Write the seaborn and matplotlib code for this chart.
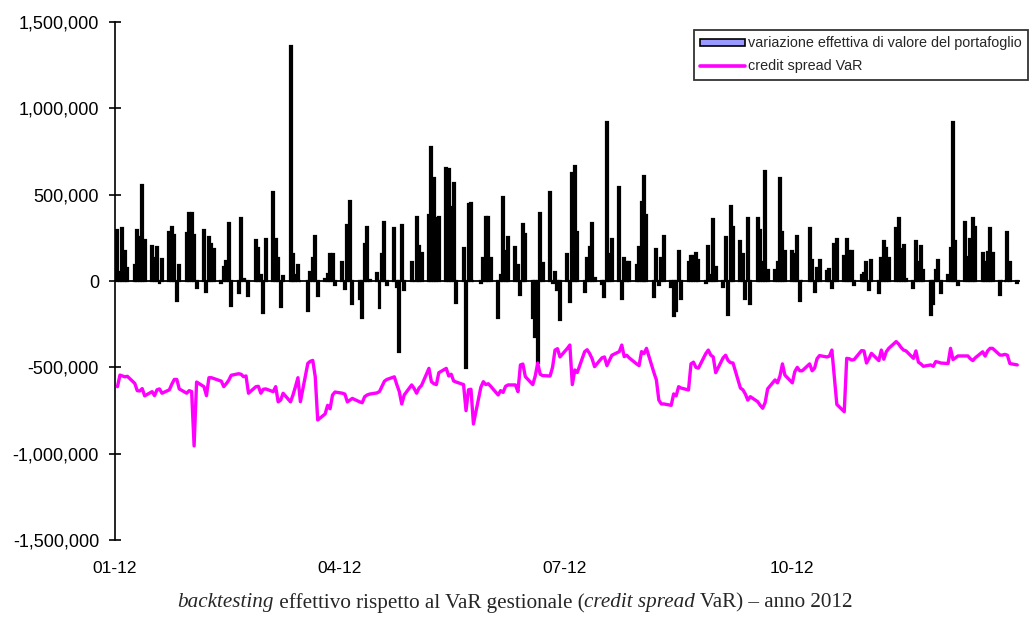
import numpy as np
import pandas as pd
import matplotlib
matplotlib.use("Agg")
import matplotlib.pyplot as plt
import matplotlib.dates as mdates
from matplotlib.patches import Patch
from matplotlib.lines import Line2D
from matplotlib.ticker import FuncFormatter, FixedLocator
import seaborn as sns

# Trading days of 2012 (Mon-Fri)
trading_days = pd.bdate_range("2012-01-02", "2012-12-31")

# Daily change in portfolio value, thousand EUR (one row per week)
pnl_k = [
    295, 52, 305, 176, 73,
    93, 295, 257, 556, 237,
    205, 135, 195, -10, 125,
    286, 315, 264, -116, 93,
    276, 396, 396, 264, -42,
    295, -66, 253, 214, 183,
    -10, 83, 114, 334, -145,
    -71, 363, 10, 0, -87,
    237, 193, 33, -183, 245,
    517, 245, 133, -152, 31,
    1363, 154, 35, 93, 0,
    -172, 50, 131, 262, -85,
    10, 40, 154, 154, -23,
    112, -44, 324, 465, -133,
    -104, -216, 212, 315, 5,
    44, -154, 154, 343, -23,
    305, -33, -409, 324, -52,
    112, 0, 372, 200, 164,
    382, 778, 595, 363, 372,
    657, 648, 427, 566, -126,
    193, -506, 444, 453, 0,
    -13, 131, 372, 372, 131,
    -214, 32, 486, 174, 255,
    195, 93, -81, 328, 272,
    -214, -324, -475, 396, 102,
    517, -10, 54, -52, -226,
    154, -124, 627, 666, 286,
    -66, 135, 195, 334, 20,
    -17, -91, 919, 156, 243,
    546, -104, 131, 108, 112,
    93, 195, 455, 608, 380,
    -93, 183, -23, 131, 262,
    -33, -203, -172, 174, -104,
    112, 145, 145, 164, 122,
    -10, 205, 35, 357, 83,
    -33, 257, -197, 436, 315,
    234, 154, -106, 367, -133,
    367, 295, 112, 639, 64,
    64, 108, 598, 286, 174,
    174, 154, 262, -114, 0,
    305, 122, -62, 73, 122,
    60, 70, -42, 214, 243,
    145, 243, 174, 174, -23,
    35, 44, 112, -52, 122,
    -71, 131, 234, 193, 131,
    305, 367, 183, 206, 10,
    -42, 234, 112, 205, 64,
    -197, -133, 64, 122, -71,
    35, 193, 919, 234, -23,
    344, 141, 243, 367, 315,
    164, 112, 170, 305, 164,
    -81, 0, 0, 286, 112,
    -10,
]

# Credit spread VaR, thousand EUR (one row per week)
var_k = [
    -612, -545, -550, -555, -552,
    -593, -635, -637, -623, -665,
    -641, -664, -630, -625, -650,
    -630, -597, -570, -570, -625,
    -650, -635, -640, -955, -585,
    -612, -664, -560, -560, -565,
    -580, -612, -595, -575, -546,
    -537, -540, -554, -550, -650,
    -612, -610, -650, -627, -625,
    -641, -612, -700, -690, -650,
    -700, -660, -612, -560, -699,
    -477, -465, -460, -554, -805,
    -770, -720, -740, -660, -643,
    -650, -655, -700, -690, -680,
    -700, -705, -670, -660, -655,
    -648, -640, -610, -580, -570,
    -555, -600, -640, -712, -660,
    -602, -622, -650, -620, -605,
    -506, -583, -595, -600, -531,
    -506, -550, -540, -579, -585,
    -600, -751, -630, -627, -828,
    -615, -583, -600, -595, -610,
    -660, -635, -645, -610, -602,
    -602, -641, -486, -481, -554,
    -600, -550, -475, -540, -548,
    -550, -500, -400, -392, -440,
    -390, -371, -600, -515, -530,
    -409, -398, -420, -450, -496,
    -445, -440, -490, -460, -430,
    -409, -371, -438, -430, -445,
    -480, -490, -409, -420, -390,
    -530, -573, -690, -712, -712,
    -720, -654, -665, -612, -620,
    -631, -480, -470, -500, -505,
    -420, -400, -429, -440, -531,
    -445, -430, -460, -473, -475,
    -620, -630, -655, -690, -670,
    -699, -720, -737, -704, -625,
    -573, -590, -550, -480, -545,
    -590, -525, -500, -520, -520,
    -480, -520, -505, -450, -432,
    -440, -435, -400, -560, -715,
    -757, -448, -450, -458, -455,
    -403, -405, -475, -450, -419,
    -461, -400, -453, -410, -390,
    -351, -365, -385, -400, -405,
    -448, -405, -470, -480, -494,
    -486, -494, -467, -470, -475,
    -478, -390, -455, -445, -434,
    -434, -434, -450, -461, -445,
    -410, -435, -405, -390, -390,
    -429, -429, -425, -430, -478,
    -486,
]

tick_dates = ["2012-01-01", "2012-04-01", "2012-07-01", "2012-10-01"]
tick_labels = ["01-12", "04-12", "07-12", "10-12"]
legend_labels = ["variazione effettiva di valore del portafoglio", "credit spread VaR"]
y_ticks = [-1_500_000, -1_000_000, -500_000, 0, 500_000, 1_000_000, 1_500_000]

df = pd.DataFrame({
    "day": mdates.date2num(trading_days.to_pydatetime()),
    "pnl": np.array(pnl_k) * 1000,
    "var": np.array(var_k) * 1000,
})

sns.set_style("white")
plt.rcParams["font.family"] = ["Liberation Sans", "DejaVu Sans"]

BAR_FILL = "#9999FF"
LINE_COL = "#FF00FF"

fig = plt.figure(figsize=(10.30, 6.19), dpi=100)
ax = fig.add_axes([115 / 1030, 1 - 540 / 619, (1020 - 115) / 1030, (540 - 22) / 619])

sns.barplot(data=df, x="day", y="pnl", native_scale=True, width=0.8,
            color=BAR_FILL, edgecolor="black", linewidth=1.6,
            errorbar=None, saturation=1, ax=ax, zorder=2)
sns.lineplot(data=df, x="day", y="var", color=LINE_COL, linewidth=2.4,
             ax=ax, zorder=4)

ax.axhline(0, color="black", linewidth=1.3, zorder=3)

start = mdates.date2num(pd.Timestamp("2012-01-01"))
ax.set_xlim(start + 0.4, start + 366.1)
ax.set_ylim(-1_500_000, 1_500_000)

ax.yaxis.set_major_locator(FixedLocator(y_ticks))
ax.yaxis.set_major_formatter(FuncFormatter(lambda v, _: f"{v:,.0f}"))
ax.set_xticks(mdates.date2num(pd.to_datetime(tick_dates).to_pydatetime()))
ax.set_xticklabels(tick_labels)

ax.tick_params(axis="y", direction="inout", length=8, width=1.2,
               labelsize=13, pad=7.5, colors="black", left=True)
ax.tick_params(axis="x", length=0, labelsize=12.5, pad=15, colors="black")
ax.set_xlabel("")
ax.set_ylabel("")

for side in ["top", "right", "bottom"]:
    ax.spines[side].set_visible(False)
ax.spines["left"].set_color("black")
ax.spines["left"].set_linewidth(1.2)
ax.grid(False)

handles = [
    Patch(facecolor=BAR_FILL, edgecolor="black", linewidth=1.2),
    Line2D([0], [0], color=LINE_COL, linewidth=2.6),
]
leg = fig.legend(handles, legend_labels, loc="upper right",
                 bbox_to_anchor=(1028 / 1030, 1 - 30 / 619),
                 bbox_transform=fig.transFigure,
                 fontsize=10.4, frameon=True, fancybox=False,
                 edgecolor="black", handlelength=3.1, handleheight=0.4,
                 handletextpad=0.2, labelspacing=0.6, borderpad=0.45,
                 borderaxespad=0)
leg.get_frame().set_linewidth(1.3)

# Caption with italic parts, laid out piece by piece
pieces = [
    ("backtesting", "italic"),
    (" effettivo rispetto al VaR gestionale (", "normal"),
    ("credit spread", "italic"),
    (" VaR) \u2013 anno 2012", "normal"),
]
renderer = fig.canvas.get_renderer()
texts = []
for s, style in pieces:
    t = fig.text(0, 1 - 603 / 619, s, fontsize=15.2,
                 family=["Liberation Serif", "DejaVu Serif"], style=style,
                 va="center", ha="left")
    texts.append(t)
widths = [t.get_window_extent(renderer).width for t in texts]
total = sum(widths)
x = 515 - total / 2
for t, w in zip(texts, widths):
    t.set_x(x / 1030)
    x += w

fig.savefig("out.png", dpi=100, facecolor="white")
